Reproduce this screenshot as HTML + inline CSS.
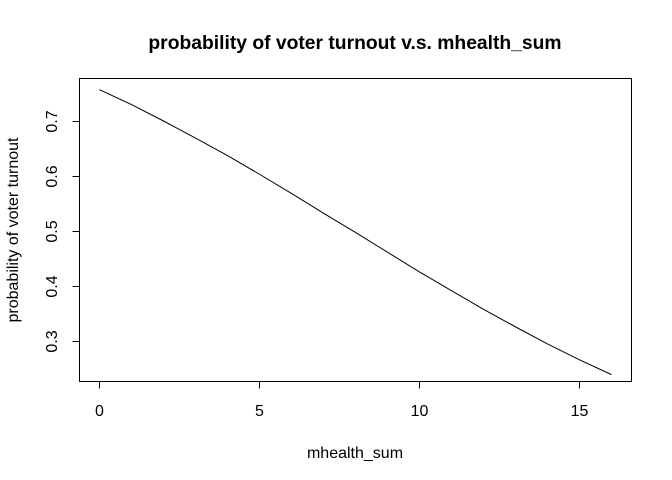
<!DOCTYPE html>
<html><head><meta charset="utf-8"><style>
body{margin:0;background:#fff}
svg{display:block;font-family:"Liberation Sans",Arial,sans-serif}
</style></head><body>
<svg id="chart" width="672" height="480">
<rect x="0" y="0" width="672" height="480" fill="#fff"/>
<text x="355" y="49" text-anchor="middle" font-size="19.3" font-weight="bold">probability of voter turnout v.s. mhealth_sum</text>
<rect x="79.5" y="78.5" width="552" height="303" fill="none" stroke="#000"/>
<text x="355" y="458" text-anchor="middle" font-size="16">mhealth_sum</text>
<text transform="translate(18,230) rotate(-90)" text-anchor="middle" font-size="16">probability of voter turnout</text>
<g id="xaxis"></g>
<g id="yaxis"></g>
<g id="series"></g>
</svg>
<script>
const xValues=[0,1,2,3,4,5,6,7,8,9,10,11,12,13,14,15,16];
const yValues=[0.757,0.730,0.700,0.669,0.637,0.603,0.568,0.532,0.497,0.461,0.425,0.391,0.357,0.325,0.294,0.265,0.238];
const xTicks=[0,5,10,15];
const yTicks=[0.3,0.4,0.5,0.6,0.7];
const NS="http://www.w3.org/2000/svg";
function sx(v){return 99.5+v*32;}
function sy(v){return 121+(0.7-v)*549;}
function mk(t,a,p){const e=document.createElementNS(NS,t);for(const k in a)e.setAttribute(k,a[k]);p.appendChild(e);return e;}
const xa=document.getElementById('xaxis'),ya=document.getElementById('yaxis'),se=document.getElementById('series');
const xl=mk('line',{x1:sx(xTicks[0]),x2:sx(xTicks[xTicks.length-1]),y1:381.5,y2:381.5,stroke:'#000'},xa);


xTicks.forEach(t=>{
 const l=mk('line',{x1:sx(t),x2:sx(t),y1:381.5,y2:388.5,stroke:'#000'},xa);
 
 
 const tx=mk('text',{x:sx(t),y:416,'text-anchor':'middle','font-size':16},xa);
 tx.textContent=t;
 
 
});
const yl=mk('line',{x1:79.5,x2:79.5,y1:sy(yTicks[0]),y2:sy(yTicks[yTicks.length-1]),stroke:'#000'},ya);


yTicks.forEach(t=>{
 const y=Math.round(sy(t))+0.5;
 const l=mk('line',{x1:72.5,x2:79.5,y1:y,y2:y,stroke:'#000'},ya);
 
 
 const tx=mk('text',{transform:`translate(57,${y}) rotate(-90)`,'text-anchor':'middle','font-size':16},ya);
 tx.textContent=t.toFixed(1);
 
 
});
const pts=xValues.map((x,i)=>sx(x)+','+sy(yValues[i])).join(' ');
const pl=mk('polyline',{points:pts,fill:'none',stroke:'#000','stroke-width':1},se);


</script>
</body></html>
